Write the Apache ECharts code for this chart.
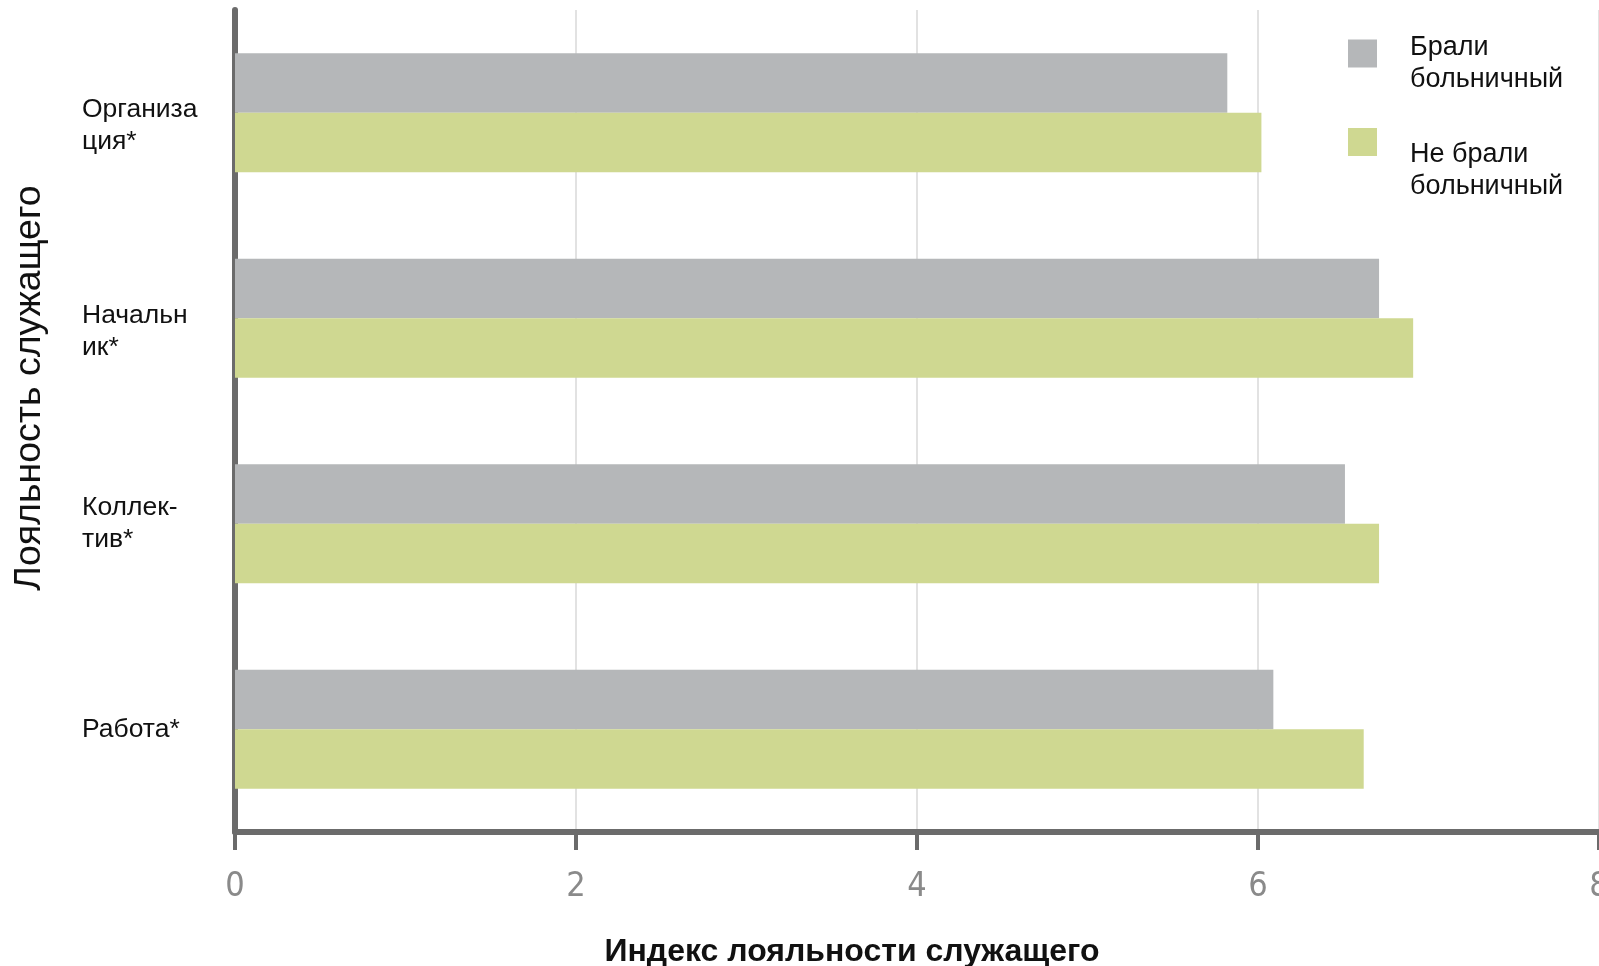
<!DOCTYPE html>
<html>
<head>
<meta charset="utf-8">
<script src="https://cdn.jsdelivr.net/npm/echarts@6/dist/echarts.min.js"></script>
<style>
html,body{margin:0;padding:0;background:#fff;}
#chart{width:1599px;height:966px;}
</style>
</head>
<body>
<div id="chart"></div>
<script>
const categories = ['Организа\nция*', 'Начальн\nик*', 'Коллек-\nтив*', 'Работа*'];
const seriesNames = ['Брали\nбольничный', 'Не брали\nбольничный'];
const tookSickLeave = [5.82, 6.71, 6.51, 6.09];
const noSickLeave = [6.02, 6.91, 6.71, 6.62];
const xTicks = [0, 2, 4, 6, 8];

const colors = ['#b5b7b9', '#cfd891'];
const labelFont = 'Arial, "Liberation Sans", sans-serif';
const labelSpacer = [26, 26, 0, 0];
const legendSpacer = [20, 58];

const chart = echarts.init(document.getElementById('chart'), null, {renderer: 'canvas'});

function catLabel(value, index) {
  const lines = value.split('\n').map(l => '{a|' + l + '}');
  const sp = labelSpacer[index] || 0;
  return (sp ? '{s' + sp + '| }\n' : '') + lines.join('\n');
}
function legendLabel(name) {
  const idx = seriesNames.indexOf(name);
  const lines = name.split('\n').map(l => '{t|' + l + '}');
  return '{s' + legendSpacer[idx] + '| }\n' + lines.join('\n');
}
const spacerRich = {};
[...labelSpacer, ...legendSpacer].forEach(v => {
  if (v) spacerRich['s' + v] = {height: v, lineHeight: v, fontSize: 1};
});

function makeLegend(i, top) {
  return {
    data: [seriesNames[i]],
    orient: 'vertical', left: 1348, top: top, padding: 0,
    itemWidth: 29, itemHeight: 28, icon: 'rect',
    formatter: legendLabel,
    textStyle: {
      fontFamily: labelFont, fontSize: 27, lineHeight: 32, color: '#111',
      padding: [0, 0, 0, 28],
      rich: Object.assign({t: {fontFamily: labelFont, fontSize: 27, lineHeight: 32, color: '#111'}}, spacerRich)
    }
  };
}

const option = {
  backgroundColor: '#ffffff',
  animation: false,
  grid: {left: 235, right: 0, top: 10, bottom: 134, outerBoundsMode: 'none', containLabel: false},
  legend: [makeLegend(0, 11.5), makeLegend(1, 81)],
  xAxis: {
    type: 'value', min: xTicks[0], max: xTicks[xTicks.length - 1], interval: 2,
    name: 'Индекс лояльности служащего',
    nameLocation: 'middle', nameGap: 104,
    nameTextStyle: {fontFamily: labelFont, fontSize: 32, fontWeight: 'bold', color: '#111', padding: [0, 130, 0, 0]},
    axisLine: {show: true, lineStyle: {color: '#6b6b6b', width: 6}},
    axisTick: {show: true, length: 18, lineStyle: {color: '#6b6b6b', width: 4}},
    axisLabel: {
      margin: 38, fontFamily: '"Liberation Sans Narrow", "DejaVu Sans Condensed", sans-serif',
      fontSize: 34, color: '#8a8a8a'
    },
    splitLine: {show: true, lineStyle: {color: '#e2e2e2', width: 2}}
  },
  yAxis: {
    type: 'category', inverse: true, data: categories,
    name: 'Лояльность служащего',
    nameLocation: 'middle', nameGap: 186,
    nameTextStyle: {fontFamily: labelFont, fontSize: 37.5, color: '#111', padding: [0, 0, 0, 66]},
    axisLine: {show: true, onZero: false, lineStyle: {color: '#6b6b6b', width: 6}},
    axisTick: {show: false},
    axisLabel: {
      margin: 23, formatter: catLabel,
      rich: Object.assign({a: {width: 130, align: 'left', fontFamily: labelFont, fontSize: 26.5, lineHeight: 32, color: '#111'}}, spacerRich)
    },
    splitLine: {show: false}
  },
  series: [
    {
      name: seriesNames[0], type: 'bar', data: tookSickLeave,
      itemStyle: {color: colors[0]}, barGap: '0%', barCategoryGap: '42%'
    },
    {
      name: seriesNames[1], type: 'bar', data: noSickLeave,
      itemStyle: {color: colors[1]}, barGap: '0%', barCategoryGap: '42%'
    }
  ]
};
chart.setOption(option);
</script>
</body>
</html>
